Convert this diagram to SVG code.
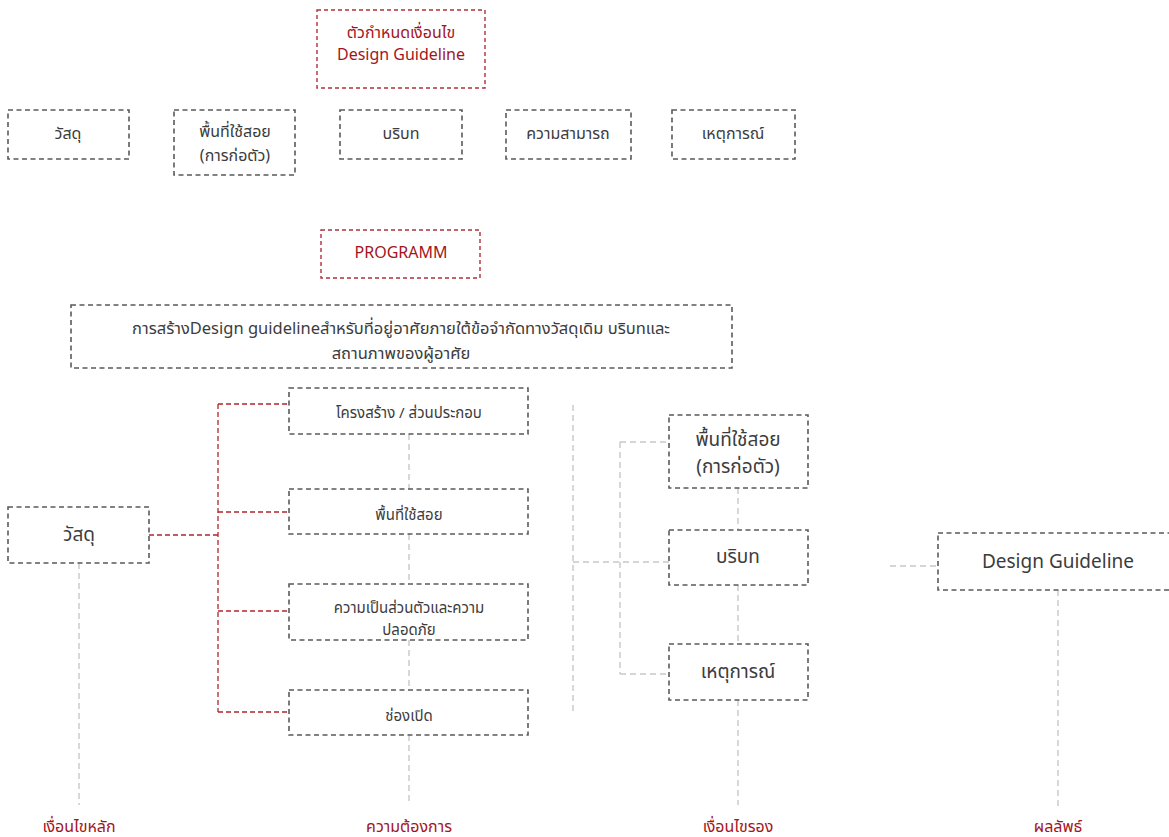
<svg xmlns="http://www.w3.org/2000/svg" width="1169" height="837" viewBox="0 0 1169 837">
<style>
text{font-family:"Noto Sans Thai","Noto Sans","Liberation Sans",sans-serif;fill:#3c3c3c;text-anchor:middle;dominant-baseline:central}
.s{font-size:15px}
.m{font-size:16px}
.g{font-size:16.5px}
.l{font-size:19px}
.red{fill:#a3151c}
.box{fill:none;stroke:#5a5a5a;stroke-width:1.6;stroke-dasharray:5 3.5}
.rbox{fill:none;stroke:#b0303a;stroke-width:1.4;stroke-dasharray:4 3}
.rc{fill:none;stroke:#b3262e;stroke-width:1.3;stroke-dasharray:5 3}
.gc{fill:none;stroke:#c8c8c8;stroke-width:1.4;stroke-dasharray:6 4}
</style>
<rect width="1169" height="837" fill="#fff"/>
<g id="connectors">
<path class="rc" d="M149 535H218M218 404V712M218 404H289M218 512H289M218 611H289M218 712H289"/>
<path class="gc" d="M79 563V805M409 434V489M409 534V584M409 640V690M409 735V805"/>
<path class="gc" d="M573 405V715M573 562H669M620 442V674M620 442H669M620 674H669M738 488V530M738 585V644M738 700V805"/>
<path class="gc" d="M890 566H938M1058 590V808"/>
</g>
<g id="n-top"><rect class="rbox" x="317" y="10" width="168" height="78"/><text class="m red" x="401" y="33">ตัวกำหนดเงื่อนไข</text><text class="m red" x="401" y="55">Design Guideline</text></g>
<g id="n-r1"><rect class="box" x="8" y="110" width="121" height="49"/><text class="m" x="68" y="134">วัสดุ</text></g>
<g id="n-r2"><rect class="box" x="174" y="110" width="121" height="65"/><text class="m" x="235" y="132">พื้นที่ใช้สอย</text><text class="m" x="235" y="156">(การก่อตัว)</text></g>
<g id="n-r3"><rect class="box" x="340" y="110" width="122" height="49"/><text class="m" x="401" y="134">บริบท</text></g>
<g id="n-r4"><rect class="box" x="506" y="110" width="125" height="49"/><text class="m" x="568" y="134">ความสามารถ</text></g>
<g id="n-r5"><rect class="box" x="672" y="110" width="123" height="49"/><text class="m" x="733" y="134">เหตุการณ์</text></g>
<g id="n-prog"><rect class="rbox" x="321" y="230" width="159" height="48"/><text class="m red" x="401" y="253">PROGRAMM</text></g>
<g id="n-goal"><rect class="box" x="71" y="305" width="661" height="63"/><text class="g" x="401" y="328">การสร้างDesign guidelineสำหรับที่อยู่อาศัยภายใต้ข้อจำกัดทางวัสดุเดิม บริบทและ</text><text class="g" x="401" y="353">สถานภาพของผู้อาศัย</text></g>
<g id="n-mat"><rect class="box" x="8" y="507" width="141" height="56"/><text class="l" x="79" y="535">วัสดุ</text></g>
<g id="n-c1"><rect class="box" x="289" y="388" width="239" height="46"/><text class="s" x="409" y="413">โครงสร้าง / ส่วนประกอบ</text></g>
<g id="n-c2"><rect class="box" x="289" y="489" width="239" height="45"/><text class="s" x="409" y="515">พื้นที่ใช้สอย</text></g>
<g id="n-c3"><rect class="box" x="289" y="584" width="239" height="56"/><text class="s" x="409" y="608">ความเป็นส่วนตัวและความ</text><text class="s" x="409" y="630">ปลอดภัย</text></g>
<g id="n-c4"><rect class="box" x="289" y="690" width="239" height="45"/><text class="s" x="409" y="716">ช่องเปิด</text></g>
<g id="n-s1"><rect class="box" x="669" y="415" width="139" height="73"/><text class="l" x="738" y="440">พื้นที่ใช้สอย</text><text class="l" x="738" y="467">(การก่อตัว)</text></g>
<g id="n-s2"><rect class="box" x="669" y="530" width="139" height="55"/><text class="l" x="738" y="557">บริบท</text></g>
<g id="n-s3"><rect class="box" x="669" y="644" width="139" height="56"/><text class="l" x="738" y="672">เหตุการณ์</text></g>
<g id="n-dg"><rect class="box" x="938" y="533" width="240" height="57"/><text class="l" x="1058" y="562">Design Guideline</text></g>
<g id="labels">
<text class="m red" x="79" y="827">เงื่อนไขหลัก</text>
<text class="m red" x="409" y="827">ความต้องการ</text>
<text class="m red" x="738" y="827">เงื่อนไขรอง</text>
<text class="m red" x="1058" y="827">ผลลัพธ์</text>
</g>
</svg>
